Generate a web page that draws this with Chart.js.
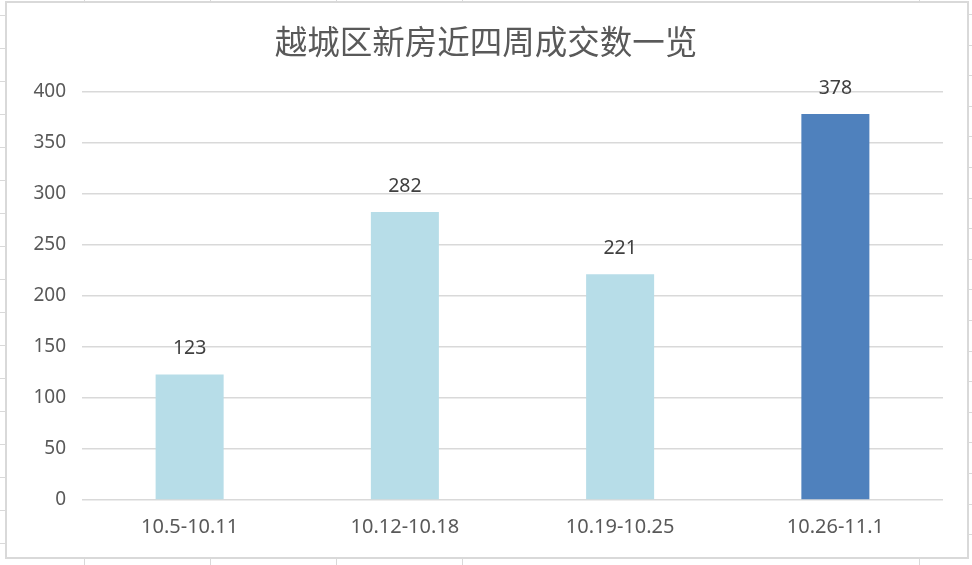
<!doctype html>
<html lang="zh">
<head>
<meta charset="utf-8">
<title>越城区新房近四周成交数一览</title>
<script src="https://cdn.jsdelivr.net/npm/chart.js@4.4.0/dist/chart.umd.min.js"></script>
<style>
  body { margin: 0; background: #fff; width: 972px; height: 565px; position: relative; overflow: hidden; }
  .vl { position: absolute; width: 1px; background: #d9d9d9; }
  .hl { position: absolute; height: 1px; background: #d9d9d9; }
  #box { position: absolute; left: 5px; top: 1px; width: 964px; height: 558px;
         border: 2px solid #d9d9d9; box-sizing: border-box; background: #fff; }
  #wrap { position: absolute; left: 0; top: 0; width: 960px; height: 554px; }
</style>
</head>
<body>
<div id="sheet"></div>
<div id="box"><div id="wrap"><canvas id="myChart"></canvas></div></div>
<script>
var weeks = ["10.5-10.11", "10.12-10.18", "10.19-10.25", "10.26-11.1"];
var deals = [123, 282, 221, 378];
var barColors = ["#b7dde8", "#b7dde8", "#b7dde8", "#4f81bd"];

// faint spreadsheet cell lines around the chart
var sheet = document.getElementById("sheet");
[84, 210, 336, 462, 919].forEach(function (x) {
  var d = document.createElement("div");
  d.className = "vl"; d.style.left = x + "px"; d.style.top = "0px"; d.style.height = "565px";
  sheet.appendChild(d);
});
for (var y = 15; y < 565; y += 33) {
  var d = document.createElement("div");
  d.className = "hl"; d.style.left = "0px"; d.style.top = y + "px"; d.style.width = "6px";
  sheet.appendChild(d);
}
for (var y2 = 14; y2 < 565; y2 += 30.6) {
  var e = document.createElement("div");
  e.className = "hl"; e.style.left = "968px"; e.style.top = Math.round(y2) + "px"; e.style.width = "4px";
  sheet.appendChild(e);
}

var valueLabels = {
  id: "valueLabels",
  afterDatasetsDraw: function (chart) {
    var ctx = chart.ctx;
    var meta = chart.getDatasetMeta(0);
    ctx.save();
    ctx.font = "19.5px 'Noto Sans'";
    ctx.fillStyle = "#404040";
    ctx.textAlign = "center";
    ctx.textBaseline = "middle";
    meta.data.forEach(function (bar, i) {
      ctx.fillText(deals[i], bar.x, bar.y - 26);
    });
    ctx.restore();
  }
};

new Chart(document.getElementById("myChart"), {
  type: "bar",
  data: {
    labels: weeks,
    datasets: [{
      data: deals,
      backgroundColor: barColors,
      barPercentage: 1,
      categoryPercentage: 0.316
    }]
  },
  options: {
    responsive: true,
    maintainAspectRatio: false,
    animation: false,
    layout: { padding: { left: 22, right: 24, top: 0, bottom: 0 } },
    plugins: {
      legend: { display: false },
      tooltip: { enabled: false },
      title: {
        display: true,
        text: "越城区新房近四周成交数一览",
        color: "#595959",
        font: { family: "'Noto Sans CJK SC'", size: 32.5, weight: "normal", lineHeight: 1.2 },
        padding: { top: 19, bottom: 30.5 }
      }
    },
    scales: {
      x: {
        grid: { display: false, drawTicks: false },
        border: { display: false },
        ticks: { color: "#595959", font: { family: "'Noto Sans'", size: 20 }, padding: 15 },
        afterFit: function (s) { s.height = 57; }
      },
      y: {
        min: 0,
        max: 400,
        grid: { color: "#d9d9d9", lineWidth: 1.5, drawTicks: false },
        border: { display: false },
        ticks: { stepSize: 50, color: "#595959", font: { family: "'Noto Sans'", size: 19 }, padding: 16 },
        afterFit: function (s) { s.width = 53; }
      }
    }
  },
  plugins: [valueLabels]
});
</script>
</body>
</html>
